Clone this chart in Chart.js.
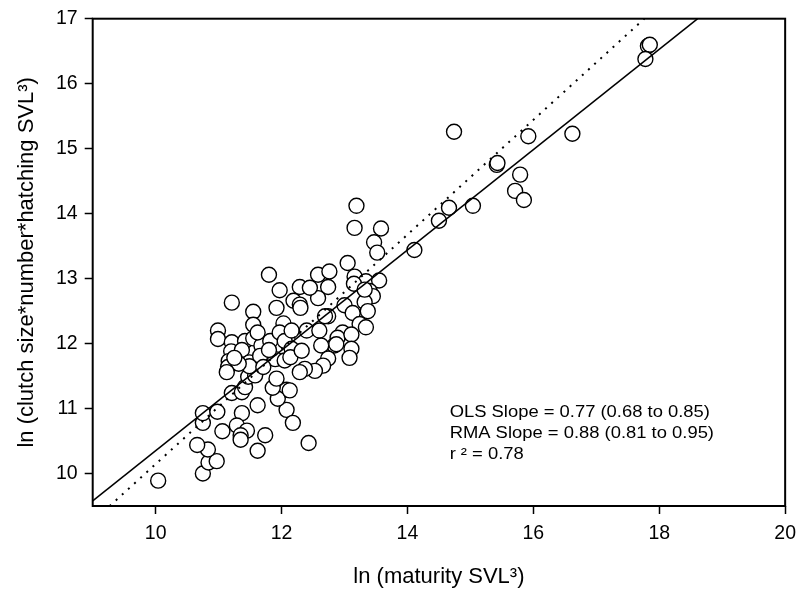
<!DOCTYPE html>
<html>
<head>
<meta charset="utf-8">
<script src="https://cdn.jsdelivr.net/npm/chart.js@4.4.1/dist/chart.umd.min.js"></script>
<style>
  body { margin: 0; background: #fff; }
  canvas { display: block; }
</style>
</head>
<body>
<canvas id="grafico" width="804" height="592"></canvas>
<script>
// ln(maturity SVL^3) de cada especie
const maturidade = [
  10.04, 10.75, 10.84, 10.97, 10.83, 10.66, 10.75, 10.75, 10.98, 11.06,
  11.21, 11.37, 11.37, 11.29, 11.45, 11.35, 11.35, 11.62, 11.74, 11.62,
  12.08, 12.08, 12.18, 12.43, 11.94, 11.86, 11.42, 11.47, 11.58, 11.92,
  11.80, 11.21, 11.97, 11.55, 11.92, 11.55, 12.03, 10.99, 10.99, 11.21,
  11.42, 11.55, 11.68, 11.82, 11.97, 12.05, 12.16, 11.20, 11.16, 11.37,
  11.49, 11.66, 11.90, 11.15, 11.49, 11.71, 12.05, 11.32, 11.13, 11.25,
  12.14, 12.16, 11.62, 11.80, 12.29, 12.58, 12.76, 13.05, 12.74, 12.58,
  12.45, 12.19, 12.29, 12.30, 13.16, 13.34, 13.55, 13.15, 13.40, 13.45,
  13.32, 13.00, 12.74, 12.69, 13.13, 13.37, 13.24, 13.34, 12.97, 12.89,
  13.11, 13.11, 13.08, 12.84, 12.63, 12.74, 12.66, 12.53, 12.37, 12.29,
  12.32, 12.87, 12.13, 12.40, 12.60, 13.19, 13.16, 13.58, 13.47, 13.52,
  13.32, 14.11, 14.50, 14.66, 15.04, 14.74, 15.42, 15.43, 15.79, 15.71,
  15.85, 15.92, 16.62, 17.82, 17.85, 17.78
]
// ln(clutch size*number*hatching SVL^3)
const ninhada = [
   9.89, 10.00, 10.17, 10.19, 10.37, 10.44, 10.78, 10.93, 10.95, 10.65,
  11.24, 11.25, 10.93, 10.74, 10.66, 10.59, 10.52, 11.05, 10.59, 10.35,
  11.29, 10.98, 10.78, 10.47, 11.15, 11.32, 11.33, 11.49, 11.51, 11.46,
  13.06, 12.63, 12.82, 12.49, 12.55, 12.29, 12.31, 12.20, 12.07, 12.02,
  12.04, 12.08, 11.97, 12.04, 12.17, 12.04, 11.92, 11.88, 11.73, 11.90,
  11.71, 11.81, 11.76, 11.64, 11.65, 11.64, 11.74, 11.69, 11.56, 11.78,
  11.79, 12.20, 12.17, 11.90, 12.87, 13.06, 13.11, 13.24, 12.87, 12.70,
  12.86, 12.66, 12.60, 12.55, 13.03, 12.96, 12.97, 12.92, 12.81, 12.73,
  12.64, 12.59, 12.42, 12.42, 12.47, 12.50, 12.30, 12.25, 12.17, 12.09,
  12.14, 11.92, 11.78, 11.97, 11.97, 11.77, 11.66, 11.58, 11.61, 11.56,
  11.89, 11.99, 11.28, 12.20, 12.20, 14.12, 13.78, 13.77, 13.56, 13.40,
  12.83, 13.44, 13.89, 14.09, 14.12, 15.26, 14.75, 14.78, 14.60, 14.35,
  14.21, 15.19, 15.23, 16.58, 16.60, 16.38
]

const xTicks = [10, 12, 14, 16, 18, 20]
const yTicks = [10, 11, 12, 13, 14, 15, 16, 17]
const xLimites = [9, 20]
const yLimites = [9.5, 17]

// [inclinacao, intercepto]
const retaOLS = [0.772, 2.632]
const retaRMA = [0.883, 1.315]

const textoStats = [
  'OLS Slope = 0.77 (0.68 to 0.85)',
  'RMA Slope = 0.88 (0.81 to 0.95)',
  'r \u00B2 = 0.78'
]

const fonte = '"Liberation Sans", Arial, sans-serif'

// pontos da reta dentro dos limites do grafico
function retaAjuste(reta) {
  const m = reta[0], b = reta[1]
  const x0 = Math.max(xLimites[0], (yLimites[0] - b) / m)
  const x1 = Math.min(xLimites[1], (yLimites[1] - b) / m)
  return [{ x: x0, y: m * x0 + b }, { x: x1, y: m * x1 + b }]
}

const moldura = {
  id: 'moldura',
  afterDraw(chart) {
    const ctx = chart.ctx
    const a = chart.chartArea
    ctx.save()
    ctx.strokeStyle = '#000'
    ctx.lineWidth = 2
    ctx.strokeRect(a.left, a.top, a.right - a.left, a.bottom - a.top)

    // texto das estatisticas
    ctx.fillStyle = '#000'
    ctx.font = '16.3px ' + fonte
    ctx.textBaseline = 'alphabetic'
    ctx.textAlign = 'left'
    const px = chart.scales.x.getPixelForValue(14.67)
    const py = chart.scales.y.getPixelForValue(10.87)
    textoStats.forEach((t, i) => {
      ctx.save()
      ctx.translate(px, py + i * 20.8)
      ctx.scale(1.13, 1)
      ctx.fillText(t, 0, 0)
      ctx.restore()
    })
    ctx.restore()
  }
}

const eixoBase = {
  type: 'linear',
  grid: { display: true, drawOnChartArea: false, drawTicks: true, tickLength: 8, tickWidth: 1.5, tickColor: '#000' },
  border: { display: false }
}

const ctx = document.getElementById('grafico').getContext('2d')

new Chart(ctx, {
  type: 'scatter',
  data: {
    datasets: [
      {
        label: 'OLS',
        data: retaAjuste(retaOLS),
        showLine: true,
        borderColor: '#000',
        borderWidth: 1.5,
        pointRadius: 0,
        order: 0
      },
      {
        label: 'RMA',
        data: retaAjuste(retaRMA),
        showLine: true,
        borderColor: '#000',
        borderWidth: 2,
        borderDash: [2, 6.3],
        pointRadius: 0,
        order: 0
      },
      {
        label: 'especies',
        data: maturidade.map((x, i) => ({ x: x, y: ninhada[i] })),
        pointRadius: 7.5,
        pointBorderWidth: 1.4,
        pointBorderColor: '#000',
        pointBackgroundColor: '#fff',
        order: 1
      }
    ]
  },
  options: {
    responsive: false,
    animation: false,
    events: [],
    layout: { padding: { left: 6, top: 16, right: 11, bottom: 0 } },
    plugins: {
      legend: { display: false },
      tooltip: { enabled: false }
    },
    scales: {
      x: Object.assign({}, eixoBase, {
        min: xLimites[0],
        max: xLimites[1],
        afterBuildTicks: s => { s.ticks = xTicks.map(v => ({ value: v })) },
        afterFit: s => { s.height = 86 },
        ticks: { color: '#000', font: { size: 19.5, family: fonte }, padding: 8, maxRotation: 0 },
        title: { display: true, text: 'ln (maturity SVL\u00B3)', color: '#000', font: { size: 22, family: fonte }, padding: { top: 0, bottom: 2 } }
      }),
      y: Object.assign({}, eixoBase, {
        min: yLimites[0],
        max: yLimites[1],
        afterBuildTicks: s => { s.ticks = yTicks.map(v => ({ value: v })) },
        afterFit: s => { s.width = 86.7 },
        ticks: { color: '#000', font: { size: 19.5, family: fonte }, padding: 7 },
        title: { display: true, text: 'ln (clutch size*number*hatching SVL\u00B3)', color: '#000', font: { size: 22, family: fonte }, padding: { top: 8, bottom: 0 } }
      })
    }
  },
  plugins: [moldura]
})
</script>
</body>
</html>
